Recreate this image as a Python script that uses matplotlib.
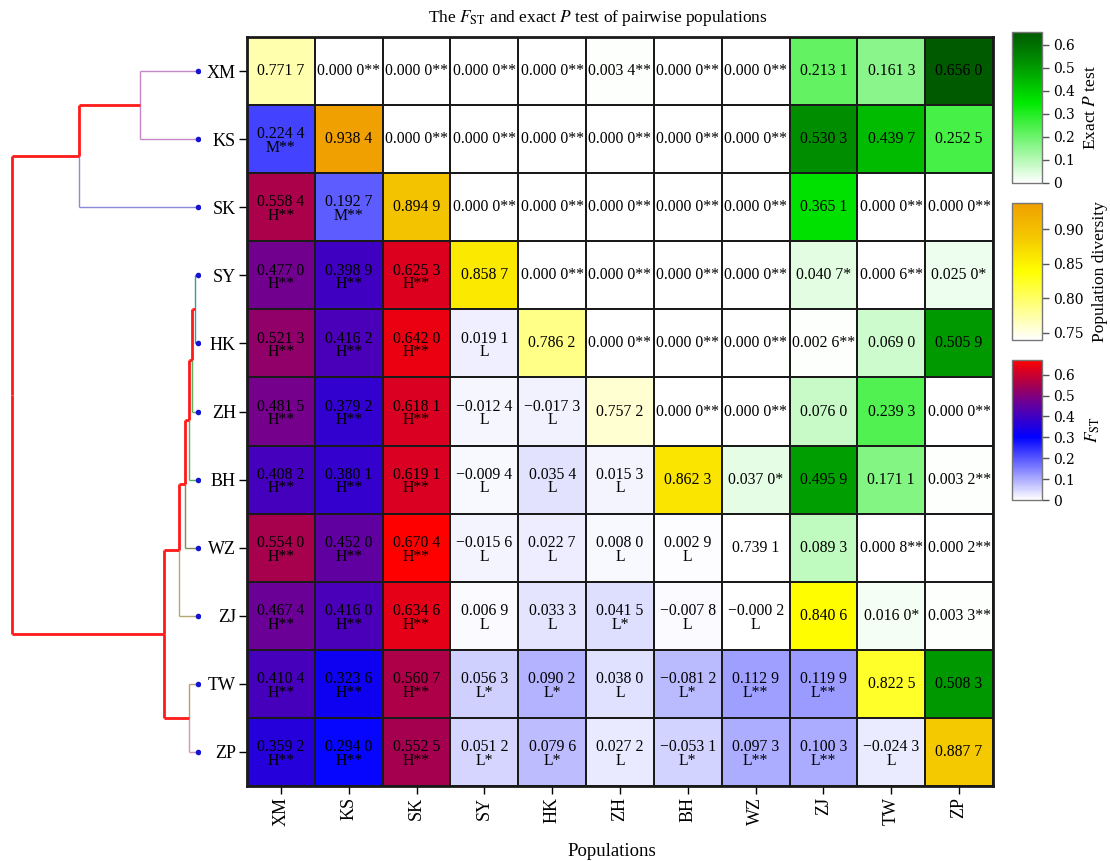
import matplotlib
matplotlib.use("Agg")
import matplotlib.pyplot as plt
import numpy as np
from matplotlib.colors import LinearSegmentedColormap, Normalize

POPS = ["XM", "KS", "SK", "SY", "HK", "ZH", "BH", "WZ", "ZJ", "TW", "ZP"]

# diagonal: population diversity
DIVERSITY = [0.7717, 0.9384, 0.8949, 0.8587, 0.7862, 0.7572,
             0.8623, 0.7391, 0.8406, 0.8225, 0.8877]

# lower triangle: pairwise Fst, row i -> columns 0..i-1
FST = [
    [],
    [0.2244],
    [0.5584, 0.1927],
    [0.4770, 0.3989, 0.6253],
    [0.5213, 0.4162, 0.6420, 0.0191],
    [0.4815, 0.3792, 0.6181, -0.0124, -0.0173],
    [0.4082, 0.3801, 0.6191, -0.0094, 0.0354, 0.0153],
    [0.5540, 0.4520, 0.6704, -0.0156, 0.0227, 0.0080, 0.0029],
    [0.4674, 0.4160, 0.6346, 0.0069, 0.0333, 0.0415, -0.0078, -0.0002],
    [0.4104, 0.3236, 0.5607, 0.0563, 0.0902, 0.0380, -0.0812, 0.1129, 0.1199],
    [0.3592, 0.2940, 0.5525, 0.0512, 0.0796, 0.0272, -0.0531, 0.0973, 0.1003, -0.0243],
]
FST_SIG = [
    [],
    ["M**"],
    ["H**", "M**"],
    ["H**", "H**", "H**"],
    ["H**", "H**", "H**", "L"],
    ["H**", "H**", "H**", "L", "L"],
    ["H**", "H**", "H**", "L", "L", "L"],
    ["H**", "H**", "H**", "L", "L", "L", "L"],
    ["H**", "H**", "H**", "L", "L", "L*", "L", "L"],
    ["H**", "H**", "H**", "L*", "L*", "L", "L*", "L**", "L**"],
    ["H**", "H**", "H**", "L*", "L*", "L", "L*", "L**", "L**", "L"],
]

# upper triangle: exact P test, row i -> columns i+1..10
EXACT_P = [
    [0.0000, 0.0000, 0.0000, 0.0000, 0.0034, 0.0000, 0.0000, 0.2131, 0.1613, 0.6560],
    [0.0000, 0.0000, 0.0000, 0.0000, 0.0000, 0.0000, 0.5303, 0.4397, 0.2525],
    [0.0000, 0.0000, 0.0000, 0.0000, 0.0000, 0.3651, 0.0000, 0.0000],
    [0.0000, 0.0000, 0.0000, 0.0000, 0.0407, 0.0006, 0.0250],
    [0.0000, 0.0000, 0.0000, 0.0026, 0.0690, 0.5059],
    [0.0000, 0.0000, 0.0760, 0.2393, 0.0000],
    [0.0370, 0.4959, 0.1711, 0.0032],
    [0.0893, 0.0008, 0.0002],
    [0.0160, 0.0033],
    [0.5083],
    [],
]

# dendrogram merges (left, right, height); ints refer to earlier merges
MERGES = [
    ("XM", "KS", 0.310),
    (0, "SK", 0.638),
    ("SY", "HK", 0.0145),
    (2, "ZH", 0.032),
    (3, "BH", 0.047),
    (4, "WZ", 0.066),
    (5, "ZJ", 0.100),
    ("TW", "ZP", 0.045),
    (6, 7, 0.181),
    (1, 8, 1.000),
]
LEAF_COLORS = {"XM": "#c687c9", "KS": "#c687c9", "SK": "#8a8ad8",
               "SY": "#2f9ea3", "HK": "#2f9ea3", "ZH": "#5cb05c",
               "BH": "#5cb05c", "WZ": "#7f8a55", "ZJ": "#b5a56f",
               "TW": "#b89e6e", "ZP": "#d597b8"}


def fmt(v):
    s = f"{abs(v):.4f}"
    s = s[:-1] + " " + s[-1]
    return ("\u2212" if v < 0 else "") + s


def stars(p):
    return "**" if p < 0.01 else ("*" if p < 0.05 else "")


plt.rcParams.update({"font.family": "Liberation Serif", "mathtext.fontset": "stix"})

n = len(POPS)
fst_m = np.full((n, n), np.nan)
div_m = np.full((n, n), np.nan)
p_m = np.full((n, n), np.nan)
for i in range(n):
    div_m[i, i] = DIVERSITY[i]
    for j, v in enumerate(FST[i]):
        fst_m[i, j] = abs(v)
    for k, v in enumerate(EXACT_P[i]):
        p_m[i, i + 1 + k] = v

fst_cmap = LinearSegmentedColormap.from_list(
    "fst", [(0, "#ffffff"), (0.45, "#0000ff"), (0.70, "#6c0096"), (0.83, "#a8004c"), (1.0, "#ff0000")])
p_cmap = LinearSegmentedColormap.from_list(
    "p", [(0, "#ffffff"), (0.53, "#00ea00"), (0.80, "#009000"), (1.0, "#005a00")])
div_cmap = LinearSegmentedColormap.from_list(
    "div", [(0, "#ffffff"), (0.5, "#ffff00"), (0.75, "#f5c800"), (1.0, "#f0a000")])

W, H = 1110, 861
fig = plt.figure(figsize=(W / 100, H / 100), dpi=100)


def frac(x0, y0, x1, y1):
    return [x0 / W, 1 - y1 / H, (x1 - x0) / W, (y1 - y0) / H]


ax = fig.add_axes(frac(247, 37, 993, 786))
edges = np.arange(n + 1)
kw = dict(edgecolors="#1a1a1a", linewidth=1.2)
m_p = ax.pcolormesh(edges, edges, np.ma.masked_invalid(p_m), cmap=p_cmap,
                    norm=Normalize(0, 0.656), **kw)
m_d = ax.pcolormesh(edges, edges, np.ma.masked_invalid(div_m), cmap=div_cmap,
                    norm=Normalize(0.7391, 0.9384), **kw)
m_f = ax.pcolormesh(edges, edges, np.ma.masked_invalid(fst_m), cmap=fst_cmap,
                    norm=Normalize(0, 0.6704), **kw)
ax.set_xlim(0, n)
ax.set_ylim(n, 0)
for s in ax.spines.values():
    s.set_linewidth(2)
    s.set_color("#1a1a1a")

tfs = 11.3
for i in range(n):
    ax.text(i + 0.5, i + 0.5, fmt(DIVERSITY[i]), ha="center", va="center", fontsize=tfs)
    for j, v in enumerate(FST[i]):
        ax.text(j + 0.5, i + 0.53, fmt(v) + "\n" + FST_SIG[i][j], ha="center", va="center",
                fontsize=tfs, linespacing=0.8)
    for k, v in enumerate(EXACT_P[i]):
        ax.text(i + 1 + k + 0.5, i + 0.5, fmt(v) + stars(v), ha="center", va="center", fontsize=tfs)

centers = np.arange(n) + 0.5
ax.set_xticks(centers)
ax.set_xticklabels(POPS, rotation=90, fontsize=13)
ax.set_yticks(centers)
ax.set_yticklabels(POPS, fontsize=13)
ax.tick_params(length=6, width=1, pad=2)

# dendrogram
dax = fig.add_axes(frac(5, 37, 200, 786))
dax.set_ylim(n, 0)
dax.set_xlim(1 + 6.7 / 186, -2.3 / 186)
dax.axis("off")
pos = {p: (0.0, c) for p, c in zip(POPS, centers)}
for k, (l, r, h) in enumerate(MERGES):
    hl, yl = pos[l]
    hr, yr = pos[r]
    y = (yl + yr) / 2
    for child, hc, yc, ends in ((l, hl, yl, (yl, y)), (r, hr, yr, (y, yr))):
        col = "#ff1a1a" if isinstance(child, int) else LEAF_COLORS[child]
        lw = 2.0 if isinstance(child, int) else 1.0
        dax.plot([hc, h], [yc, yc], color=col, lw=lw, solid_capstyle="butt")
        dax.plot([h, h], list(ends), color=col, lw=lw, solid_capstyle="butt")
    pos[k] = (h, y)
dax.scatter(np.zeros(n), centers, s=9, color="#1414d2", zorder=3)


def add_cbar(mappable, rect, ticks, labels, label):
    cax = fig.add_axes(frac(*rect))
    cb = fig.colorbar(mappable, cax=cax)
    cb.set_ticks(ticks)
    cb.set_ticklabels(labels)
    cb.outline.set_edgecolor("#777777")
    cb.outline.set_linewidth(1)
    cax.tick_params(length=5, width=1, color="#555555", labelsize=10, pad=3)
    for t in cax.get_yticklabels():
        t.set_fontfamily("DejaVu Serif")
    cb.set_label(label, fontsize=12.5, labelpad=6)
    return cb


add_cbar(m_p, (1012, 32, 1042, 183), [0, 0.1, 0.2, 0.3, 0.4, 0.5, 0.6],
         ["0", "0.1", "0.2", "0.3", "0.4", "0.5", "0.6"], "Exact $P$ test")
add_cbar(m_d, (1012, 203, 1042, 340), [0.75, 0.80, 0.85, 0.90],
         ["0.75", "0.80", "0.85", "0.90"], "Population diversity")
add_cbar(m_f, (1012, 360, 1042, 500), [0, 0.1, 0.2, 0.3, 0.4, 0.5, 0.6],
         ["0", "0.1", "0.2", "0.3", "0.4", "0.5", "0.6"], "$F_{\\mathrm{ST}}$")

fig.text(598 / W, 1 - 18 / H, "The $F_{\\mathrm{ST}}$ and exact $P$ test of pairwise populations",
         ha="center", va="center", fontsize=12.5)
fig.text(612 / W, 1 - 851 / H, "Populations", ha="center", va="center", fontsize=13.5)

fig.savefig("out.png", dpi=100)
